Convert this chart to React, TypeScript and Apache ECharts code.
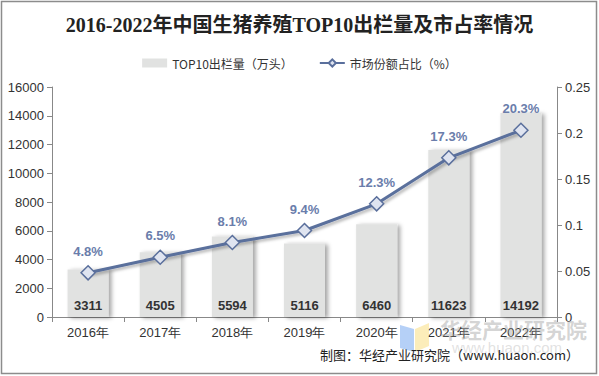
import React, { useEffect, useRef } from "react";
import * as echarts from "echarts";

const categories = ["2016年", "2017年", "2018年", "2019年", "2020年", "2021年", "2022年"];
const outputValues = [3311, 4505, 5594, 5116, 6460, 11623, 14192];
const shareValues = [0.048, 0.065, 0.081, 0.094, 0.123, 0.173, 0.203];
const titleText = "2016-2022年中国生猪养殖TOP10出栏量及市占率情况";
const barName = "TOP10出栏量（万头）";
const lineName = "市场份额占比（%）";
const sourceText = "制图：华经产业研究院（www.huaon.com）";

export default function App() {
  const ref = useRef<HTMLDivElement>(null);
  useEffect(() => {
    if (!ref.current) return;
    const chart = echarts.init(ref.current, null, { renderer: "svg" });
    chart.setOption({
      animation: false,
      backgroundColor: "#ffffff",
      title: {
        text: titleText,
        left: "center",
        top: 10,
        textStyle: {
          fontFamily: "'Liberation Serif', 'DejaVu Serif', 'Noto Sans CJK SC', serif",
          fontSize: 20,
          fontWeight: "bold",
          color: "#222",
        },
      },
      legend: {
        top: 52,
        left: "center",
        itemGap: 26,
        itemWidth: 25,
        itemHeight: 9,
        textStyle: { fontSize: 12, color: "#333", fontFamily: "'Noto Sans CJK SC', sans-serif" },
        data: [
          { name: barName, icon: "rect" },
          { name: lineName },
        ],
      },
      grid: { left: 52, right: 42, top: 87, bottom: 59 },
      xAxis: {
        type: "category",
        data: categories,
        axisLine: { lineStyle: { color: "#888" } },
        axisTick: { show: true, alignWithLabel: false, lineStyle: { color: "#888" } },
        axisLabel: { fontSize: 13, color: "#333", fontFamily: "Arial, 'Liberation Sans', sans-serif", margin: 9 },
      },
      yAxis: [
        {
          type: "value",
          min: 0,
          max: 16000,
          interval: 2000,
          axisLine: { show: true, lineStyle: { color: "#888" } },
          axisTick: { show: true, lineStyle: { color: "#888" } },
          splitLine: { show: false },
          axisLabel: {
            fontSize: 13,
            color: "#333",
            fontFamily: "Arial, 'Liberation Sans', sans-serif",
            margin: 8,
            formatter: (v: number) => String(v),
          },
        },
        {
          type: "value",
          min: 0,
          max: 0.25,
          interval: 0.05,
          axisLine: { show: true, lineStyle: { color: "#888" } },
          axisTick: { show: true, lineStyle: { color: "#888" } },
          splitLine: { show: false },
          axisLabel: {
            fontSize: 13,
            color: "#333",
            fontFamily: "Arial, 'Liberation Sans', sans-serif",
            margin: 8,
            formatter: (v: number) => String(Math.round(v * 100) / 100),
          },
        },
      ],
      series: [
        {
          name: barName,
          type: "bar",
          data: outputValues,
          barWidth: 41,
          itemStyle: {
            color: "#e1e2e1",
            shadowColor: "rgba(0,0,0,0.35)",
            shadowBlur: 4,
            shadowOffsetX: 3,
            shadowOffsetY: 1,
          },
          label: {
            show: true,
            position: "insideBottom",
            distance: 5,
            fontSize: 13,
            fontWeight: "bold",
            color: "#333",
            fontFamily: "Arial, 'Liberation Sans', sans-serif",
          },
        },
        {
          name: lineName,
          type: "line",
          yAxisIndex: 1,
          data: shareValues,
          symbol: "diamond",
          symbolSize: 14,
          lineStyle: {
            color: "#5a6f9c",
            width: 3,
            shadowColor: "rgba(0,0,0,0.3)",
            shadowBlur: 3,
            shadowOffsetX: 2,
            shadowOffsetY: 2,
          },
          itemStyle: { color: "#dfe4f0", borderColor: "#5a6f9c", borderWidth: 1.5 },
          label: {
            show: true,
            position: "top",
            distance: 7,
            fontSize: 13,
            fontWeight: "bold",
            color: "#6a7dab",
            fontFamily: "Arial, 'Liberation Sans', sans-serif",
            formatter: (p: any) => (p.value * 100).toFixed(1) + "%",
          },
        },
      ],
      graphic: [
        {
          type: "rect",
          shape: { x: 1.5, y: 1.5, width: 595, height: 372 },
          style: { fill: "none", stroke: "#8c8c8c", lineWidth: 1.5 },
          z: 100,
        },
        {
          type: "polygon",
          shape: { points: [[400, 325], [414, 329], [414, 352], [400, 348]] },
          style: { fill: "rgba(120,170,240,0.55)" },
          z: 50,
        },
        {
          type: "polygon",
          shape: { points: [[415, 329], [429, 323], [429, 346], [415, 352]] },
          style: { fill: "rgba(250,225,140,0.6)" },
          z: 50,
        },
        {
          type: "text",
          left: 440,
          top: 318,
          style: {
            text: "华经产业研究院",
            fontSize: 21,
            fontWeight: "bold",
            fill: "rgba(160,160,160,0.45)",
            fontFamily: "'Noto Sans CJK SC', sans-serif",
          },
          z: 50,
        },
        {
          type: "text",
          left: 452,
          top: 340,
          style: {
            text: "www.huaon.com",
            fontSize: 15,
            fill: "rgba(180,180,180,0.4)",
            fontFamily: "Arial, sans-serif",
          },
          z: 50,
        },
        {
          type: "text",
          right: 20,
          top: 348,
          style: {
            text: sourceText,
            fontSize: 13,
            fill: "#222",
            fontFamily: "'Noto Sans CJK SC', sans-serif",
          },
          z: 60,
        },
      ],
    });
    return () => chart.dispose();
  }, []);
  return (
    <div
      ref={ref}
      style={{ position: "fixed", left: 0, top: 0, width: 599, height: 376 }}
    />
  );
}
